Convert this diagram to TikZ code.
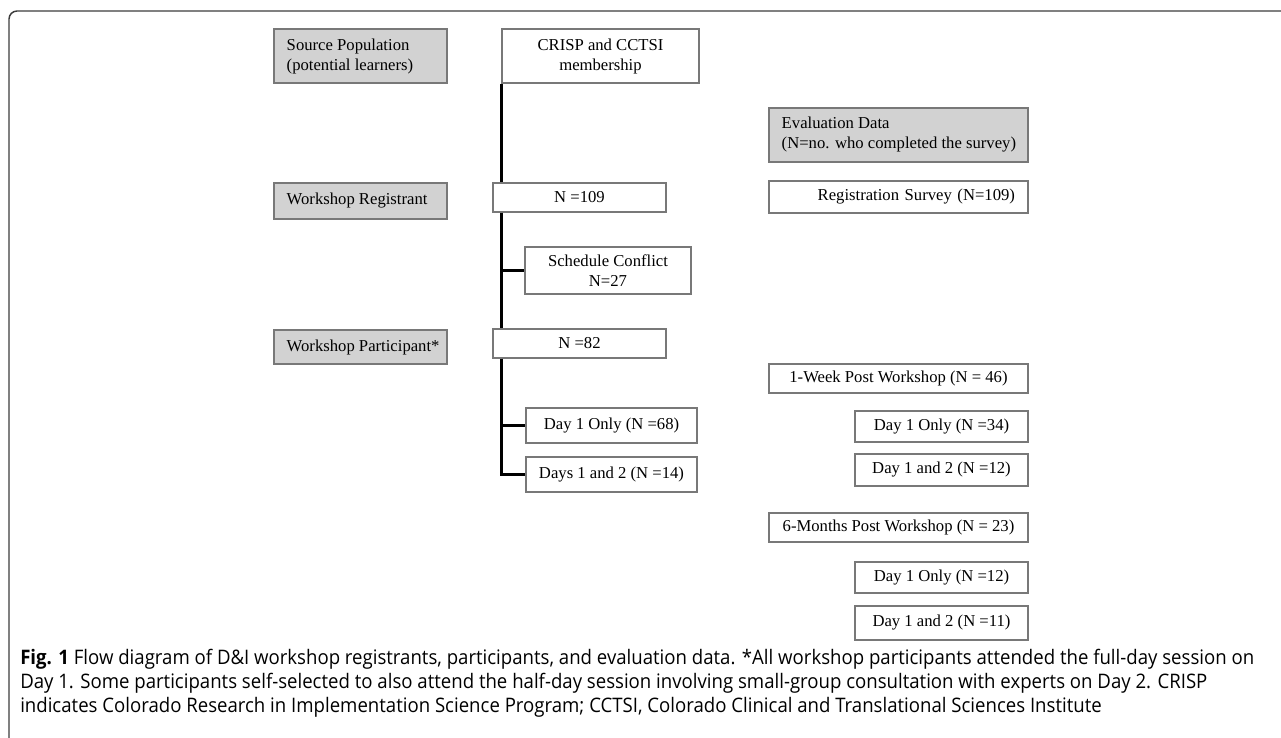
\documentclass[tikz,border=0pt]{standalone}
\usepackage{fontspec}
\setmainfont{Liberation Serif}
\newfontfamily\capfont[FakeStretch=0.93]{Open Sans}
\usetikzlibrary{calc}

\definecolor{taggray}{RGB}{210,210,210}
\definecolor{edgegray}{RGB}{120,120,120}
\definecolor{framegray}{RGB}{60,60,60}

\begin{document}
\begin{tikzpicture}[x=0.75pt,y=-0.75pt,
    font=\fontsize{12.5}{15}\selectfont,
    tag/.style={draw=edgegray, fill=taggray, line width=0.8pt, inner sep=0pt},
    txt/.style={anchor=west, align=left, inner sep=0pt, xshift=9.75pt},
    cnt/.style={draw=edgegray, fill=white, line width=0.8pt, align=center, inner sep=0pt},
    trunk/.style={line width=2.2pt, line join=miter}]

\useasboundingbox (0,0) rectangle (1281,738);

	%%% frame
    \draw[framegray, line width=1.1pt, rounded corners=6pt] (9,745) -- (9,11) -- (1285,11);

	%%% left column
    \node[tag, minimum width=129.75pt, minimum height=40.5pt,
          label={[txt]west:{Source Population\\(potential learners)}}] (src) at (360.5,56) {};
    \node[tag, minimum width=129.75pt, minimum height=27pt,
          label={[txt]west:Workshop Registrant}] (reg) at (360.5,201) {};
    \node[tag, minimum width=129.75pt, minimum height=25.5pt,
          label={[txt]west:Workshop Participant*}] (part) at (360.5,347) {};

	%%% middle column
    \node[cnt, minimum width=147.75pt, minimum height=40.5pt] (crisp) at (600.5,56) {CRISP and CCTSI\\membership};
    \node[cnt, minimum width=129.75pt, minimum height=21.75pt] (n109) at (579.5,197.5) {N =109};
    \node[cnt, minimum width=124.5pt, minimum height=35.25pt] (conf) at (608,270.5) {Schedule Conflict\\N=27};
    \node[cnt, minimum width=129.75pt, minimum height=21.75pt] (n82) at (579.5,343.5) {N =82};
    \node[cnt, minimum width=128.25pt, minimum height=26.25pt] (d1) at (611.5,425.5) {Day 1 Only (N =68)};
    \node[cnt, minimum width=128.25pt, minimum height=26.25pt] (d12) at (611.5,474.5) {Days 1 and 2 (N =14)};

	%%% trunk
    \coordinate (top) at (crisp.south west);
    \coordinate (bend) at (top |- d12.west);
    \draw[trunk] (top) -- (top |- n109.north);
    \draw[trunk] (top |- n109.south) -- (top |- n82.north);
    \draw[trunk] (top |- conf.west) -- (conf.west);
    \draw[trunk] (top |- n82.south) -- (bend) -- (d12.west);
    \draw[trunk] (top |- d1.west) -- (d1.west);

	%%% right column
    \node[tag, minimum width=194.25pt, minimum height=40.5pt,
          label={[txt]west:{Evaluation Data\\(N=no. who completed the survey)}}] (eval) at (898.5,135) {};
    \node[cnt, align=right, inner xsep=9.75pt, text width=174.75pt, minimum height=24pt] (regs) at (898.5,197) {Registration Survey (N=109)};

    \node[cnt, minimum width=194.25pt, minimum height=21.75pt] (wk) at (898.5,378.5) {1-Week Post Workshop (N = 46)};
    \node[cnt, minimum width=129.75pt, minimum height=23.25pt] (wk1) at (941.5,426.5) {Day 1 Only (N =34)};
    \node[cnt, minimum width=129.75pt, minimum height=24pt] (wk2) at (941.5,470) {Day 1 and 2 (N =12)};

    \node[cnt, minimum width=194.25pt, minimum height=21.75pt] (mo) at (898.5,527.5) {6-Months Post Workshop (N = 23)};
    \node[cnt, minimum width=129.75pt, minimum height=23.25pt] (mo1) at (941.5,577.5) {Day 1 Only (N =12)};
    \node[cnt, minimum width=129.75pt, minimum height=25.5pt] (mo2) at (941.5,623) {Day 1 and 2 (N =11)};

	%%% caption
    \node[anchor=west, align=left, inner sep=0pt, font=\capfont\fontsize{15}{18}\selectfont] (cap) at (20,683)
      {\textbf{Fig. 1} Flow diagram of D\&I workshop registrants, participants, and evaluation data. *All workshop participants attended the full-day session on\\
       Day 1. Some participants self-selected to also attend the half-day session involving small-group consultation with experts on Day 2. CRISP\\
       indicates Colorado Research in Implementation Science Program; CCTSI, Colorado Clinical and Translational Sciences Institute};

\end{tikzpicture}
\end{document}
